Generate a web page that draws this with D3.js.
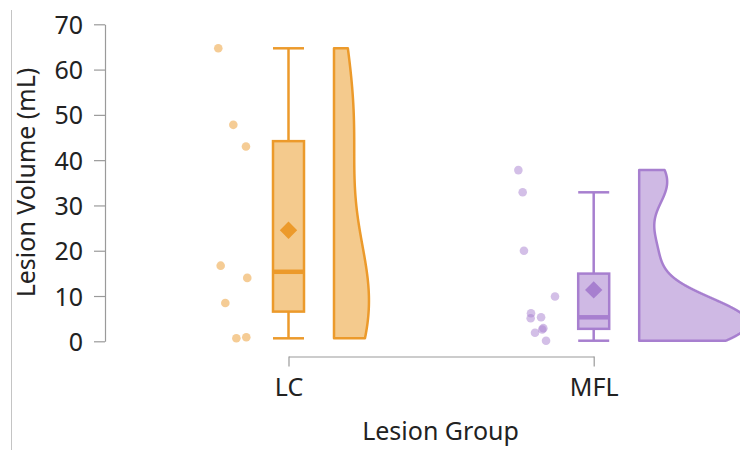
<!DOCTYPE html>
<html>
<head>
<meta charset="utf-8">
<script src="https://cdn.jsdelivr.net/npm/d3@7"></script>
<style>
  html, body { margin: 0; padding: 0; background: #ffffff; }
  svg { display: block; font-family: "Noto Sans", "Open Sans", sans-serif; }
</style>
</head>
<body>
<script>
// Lesion volumes (mL) per lesion group
const categories = ["LC", "MFL"];
const lcVolumes  = [64.7, 47.8, 43.0, 16.7, 14.0, 8.45, 0.66, 0.88];
const mflVolumes = [37.8, 32.9, 20.0, 9.9, 6.2, 5.1, 5.3, 2.9, 2.6, 1.9, 0.13];

// Horizontal jitter of the raw points, in units of the jitter half-width
const lcJitter  = [-0.92, 0.02, 0.81, -0.77, 0.89, -0.48, 0.21, 0.83];
const mflJitter = [-1.24, -0.97, -0.89, 1.05, -0.45, -0.47, 0.18, 0.32, 0.25, -0.20, 0.49];

const yTicks = [0, 10, 20, 30, 40, 50, 60, 70];
const strokeColors = ["#ec9a2b", "#a77fcf"];
const fillColors   = ["#f4ca8d", "#cfb9e4"];

const width = 740, height = 450;
const svg = d3.select("body").append("svg")
  .attr("width", width).attr("height", height);

const y = d3.scaleLinear().domain([0, 70]).range([341.3, 24.3]);
const x = d3.scalePoint().domain(categories).range([288.5, 593.7]);
const jitterX = d3.scaleLinear().domain([-1, 1]).range([-16, 16]);

const boxHalf = 15.5;
const pointOffset = -55.5;
const violinOffset = 45.5;

// Frame line on the left edge
svg.append("line")
  .attr("x1", 11.5).attr("x2", 11.5).attr("y1", 10).attr("y2", height)
  .attr("stroke", "#c4c4c4").attr("stroke-width", 1);

// Gaussian kernel density with R's default bandwidth (bw.nrd0)
function bandwidth(vals) {
  const s = vals.slice().sort(d3.ascending);
  const sd = d3.deviation(s);
  const iqr = d3.quantile(s, 0.75) - d3.quantile(s, 0.25);
  return 0.9 * Math.min(sd, iqr / 1.34) * Math.pow(s.length, -0.2);
}
function kde(vals, h, grid) {
  const n = vals.length;
  const c = 1 / (n * h * Math.sqrt(2 * Math.PI));
  return grid.map(v => ({
    v,
    density: c * d3.sum(vals, xi => Math.exp(-0.5 * ((v - xi) / h) ** 2))
  }));
}

const groups = categories.map((name, i) => {
  const values = i === 0 ? lcVolumes : mflVolumes;
  const jitter = i === 0 ? lcJitter : mflJitter;
  const s = values.slice().sort(d3.ascending);
  const q1 = d3.quantile(s, 0.25), q3 = d3.quantile(s, 0.75);
  const iqr = q3 - q1;
  const lo = d3.min(s.filter(v => v >= q1 - 1.5 * iqr));
  const hi = d3.max(s.filter(v => v <= q3 + 1.5 * iqr));
  const h = bandwidth(values);
  const [mn, mx] = d3.extent(values);
  const grid = d3.range(512).map(k => mn + (mx - mn) * k / 511);
  return {
    name, values, jitter,
    stroke: strokeColors[i], fill: fillColors[i],
    q1, q3, median: d3.median(s), mean: d3.mean(s), lo, hi,
    density: kde(values, h, grid)
  };
});

// Violins share one density scale (equal area)
const maxDensity = d3.max(groups, g => d3.max(g.density, d => d.density));
const violinW = d3.scaleLinear().domain([0, maxDensity]).range([0, 109]);

const plot = svg.append("g");

groups.forEach(g => {
  const cx = x(g.name);
  const gg = plot.append("g");

  // half violin
  const vx0 = cx + violinOffset;
  gg.append("path")
    .datum(g.density)
    .attr("d", d3.area()
      .x0(vx0)
      .x1(d => vx0 + violinW(d.density))
      .y(d => y(d.v)))
    .attr("fill", g.fill)
    .attr("stroke", g.stroke)
    .attr("stroke-width", 2.5)
    .attr("stroke-linejoin", "round");

  // whiskers
  const wk = gg.append("g").attr("stroke", g.stroke).attr("stroke-width", 2.5);
  wk.append("line").attr("x1", cx).attr("x2", cx).attr("y1", y(g.q3)).attr("y2", y(g.hi));
  wk.append("line").attr("x1", cx).attr("x2", cx).attr("y1", y(g.q1)).attr("y2", y(g.lo));
  wk.append("line").attr("x1", cx - boxHalf).attr("x2", cx + boxHalf).attr("y1", y(g.hi)).attr("y2", y(g.hi));
  wk.append("line").attr("x1", cx - boxHalf).attr("x2", cx + boxHalf).attr("y1", y(g.lo)).attr("y2", y(g.lo));

  // box
  gg.append("rect")
    .attr("x", cx - boxHalf).attr("width", boxHalf * 2)
    .attr("y", y(g.q3)).attr("height", y(g.q1) - y(g.q3))
    .attr("fill", g.fill).attr("stroke", g.stroke).attr("stroke-width", 2.5);

  // median
  gg.append("line")
    .attr("x1", cx - boxHalf).attr("x2", cx + boxHalf)
    .attr("y1", y(g.median)).attr("y2", y(g.median))
    .attr("stroke", g.stroke).attr("stroke-width", 4.5);

  // mean
  gg.append("path")
    .attr("d", d3.symbol(d3.symbolSquare, 150)())
    .attr("transform", `translate(${cx},${y(g.mean)}) rotate(45)`)
    .attr("fill", g.stroke);

  // raw points
  gg.append("g").selectAll("circle")
    .data(g.values.map((v, k) => ({ v, j: g.jitter[k] })))
    .join("circle")
    .attr("cx", d => cx + pointOffset + jitterX(d.j))
    .attr("cy", d => y(d.v))
    .attr("r", 4.3)
    .attr("fill", g.stroke)
    .attr("fill-opacity", 0.5);
});

// Axes
const axisColor = "#9a9a9a";
const textColor = "#222222";

const yAxis = svg.append("g")
  .attr("transform", "translate(105,0)")
  .call(d3.axisLeft(y).tickValues(yTicks).tickSize(11).tickSizeOuter(0).tickPadding(11));
yAxis.select(".domain").attr("stroke", axisColor).attr("stroke-width", 1.2);
yAxis.selectAll(".tick line").attr("stroke", axisColor).attr("stroke-width", 1.2);
yAxis.selectAll(".tick text")
  .attr("dy", "0.36em")
  .attr("fill", textColor)
  .style("font-size", "25px")
  .style("font-family", "'Noto Sans', 'Open Sans', sans-serif");

const xAxis = svg.append("g")
  .attr("transform", "translate(0,356.5)")
  .call(d3.axisBottom(x).tickSize(10).tickSizeOuter(0));
xAxis.select(".domain").attr("stroke", axisColor).attr("stroke-width", 1.2);
xAxis.selectAll(".tick line").attr("stroke", axisColor).attr("stroke-width", 1.2);
xAxis.selectAll(".tick text")
  .attr("y", 39).attr("dy", null)
  .attr("fill", textColor)
  .style("font-size", "25px")
  .style("font-family", "'Noto Sans', 'Open Sans', sans-serif");

// Axis titles
svg.append("text")
  .attr("transform", "translate(35,182.5) rotate(-90)")
  .attr("text-anchor", "middle")
  .attr("fill", textColor)
  .style("font-size", "25px")
  .text("Lesion Volume (mL)");

svg.append("text")
  .attr("x", 440.5).attr("y", 439.5)
  .attr("text-anchor", "middle")
  .attr("fill", textColor)
  .style("font-size", "25px")
  .text("Lesion Group");
</script>
</body>
</html>
